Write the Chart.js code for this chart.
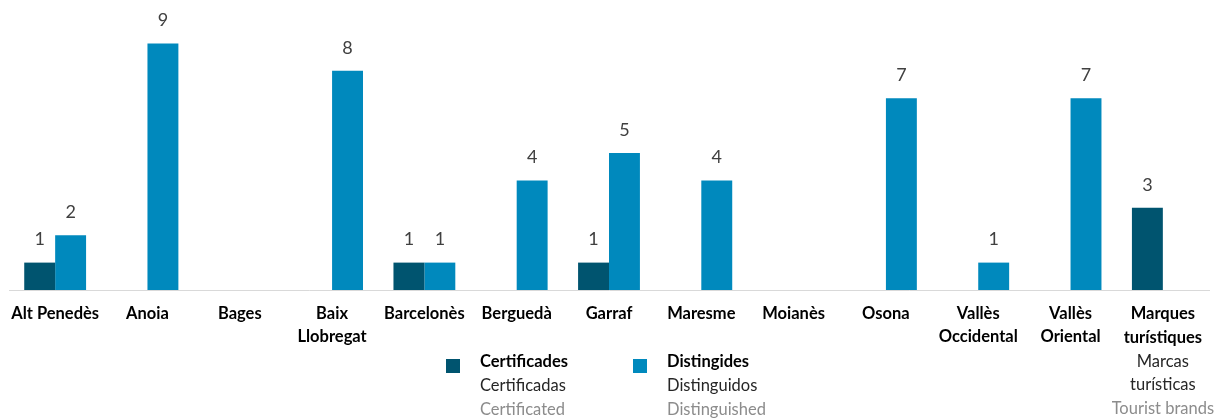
<!DOCTYPE html>
<html>
<head>
<meta charset="utf-8">
<script src="https://cdn.jsdelivr.net/npm/chart.js@4"></script>
<style>
  html, body { margin: 0; padding: 0; background: #fff; }
  #wrap { width: 1218px; height: 419px; position: relative; }
</style>
</head>
<body>
<div id="wrap"><canvas id="marksChart"></canvas></div>
<script>
var categories = [
  ["Alt Penedès"], ["Anoia"], ["Bages"], ["Baix", "Llobregat"], ["Barcelonès"],
  ["Berguedà"], ["Garraf"], ["Maresme"], ["Moianès"], ["Osona"],
  ["Vallès", "Occidental"], ["Vallès", "Oriental"], ["Marques", "turístiques"]
];
var certificades = [1, null, null, null, 1, null, 1, null, null, null, null, null, 3];
var distingides  = [2, 9, null, 8, 1, 4, 5, 4, null, 7, 1, 7, null];
var lastLabelExtra = [["Marcas", "turísticas"], ["Tourist brands"]];
var legendItems = [
  { lines: ["Certificades", "Certificadas", "Certificated"] },
  { lines: ["Distingides", "Distinguidos", "Distinguished"] }
];

var darkColor = '#00546f';
var lightColor = '#0089bd';
var fontFamily = 'Lato, "Open Sans", sans-serif';
var fontSize = 16.5;

var valueLabels = {
  id: 'valueLabels',
  afterDatasetsDraw: function(chart) {
    var ctx = chart.ctx;
    ctx.save();
    ctx.font = '18px ' + fontFamily;
    ctx.fillStyle = '#404040';
    ctx.textAlign = 'center';
    ctx.textBaseline = 'middle';
    chart.data.datasets.forEach(function(ds, i) {
      chart.getDatasetMeta(i).data.forEach(function(bar, j) {
        if (ds.data[j] == null) return;
        ctx.fillText(ds.data[j], bar.x, bar.y - 23);
      });
    });
    ctx.restore();
  }
};

var extras = {
  id: 'extras',
  afterDraw: function(chart) {
    var ctx = chart.ctx;
    var x = chart.scales.x;
    ctx.save();
    // last category label, three languages
    var cx = x.getPixelForValue(categories.length - 1);
    ctx.textAlign = 'center';
    ctx.textBaseline = 'middle';
    var lh = 23.7;
    var y0 = 314;
    ctx.font = 'bold ' + fontSize + 'px ' + fontFamily;
    ctx.fillStyle = '#000';
    categories[categories.length - 1].forEach(function(t, k) { ctx.fillText(t, cx, y0 + k * lh); });
    ctx.font = fontSize + 'px ' + fontFamily;
    ctx.fillStyle = '#262626';
    lastLabelExtra[0].forEach(function(t, k) { ctx.fillText(t, cx, y0 + (k + 2) * lh); });
    ctx.fillStyle = '#8c8c8c';
    ctx.fillText(lastLabelExtra[1][0], cx, y0 + 4 * lh);

    // legend
    var colors = [darkColor, lightColor];
    var lx = [446, 633];
    ctx.textAlign = 'left';
    legendItems.forEach(function(item, i) {
      ctx.fillStyle = colors[i];
      ctx.fillRect(lx[i], 359, 14, 14);
      var styles = [['bold ', '#000'], ['', '#262626'], ['', '#8c8c8c']];
      item.lines.forEach(function(t, k) {
        ctx.font = styles[k][0] + fontSize + 'px ' + fontFamily;
        ctx.fillStyle = styles[k][1];
        ctx.fillText(t, lx[i] + 34, 362 + k * lh);
      });
    });
    ctx.restore();
  }
};

new Chart("marksChart", {
  type: "bar",
  data: {
    labels: categories,
    datasets: [
      { label: "Certificades", data: certificades, backgroundColor: darkColor },
      { label: "Distingides", data: distingides, backgroundColor: lightColor }
    ]
  },
  options: {
    responsive: true,
    maintainAspectRatio: false,
    animation: false,
    layout: { padding: { left: 9, right: 9, top: 16, bottom: 0 } },
    datasets: { bar: { categoryPercentage: 0.67, barPercentage: 1 } },
    plugins: {
      legend: { display: false },
      tooltip: { enabled: false }
    },
    scales: {
      y: { display: false, min: 0, max: 10 },
      x: {
        grid: { display: false },
        border: { color: '#d9d9d9', width: 1 },
        afterFit: function(s) { s.height = 129; },
        ticks: {
          maxRotation: 0,
          autoSkip: false,
          padding: 4,
          color: '#000',
          font: { family: fontFamily, size: fontSize, weight: 'bold', lineHeight: 1.42 },
          callback: function(v, i) { return i === categories.length - 1 ? '' : categories[i]; }
        }
      }
    }
  },
  plugins: [valueLabels, extras]
});
</script>
</body>
</html>
